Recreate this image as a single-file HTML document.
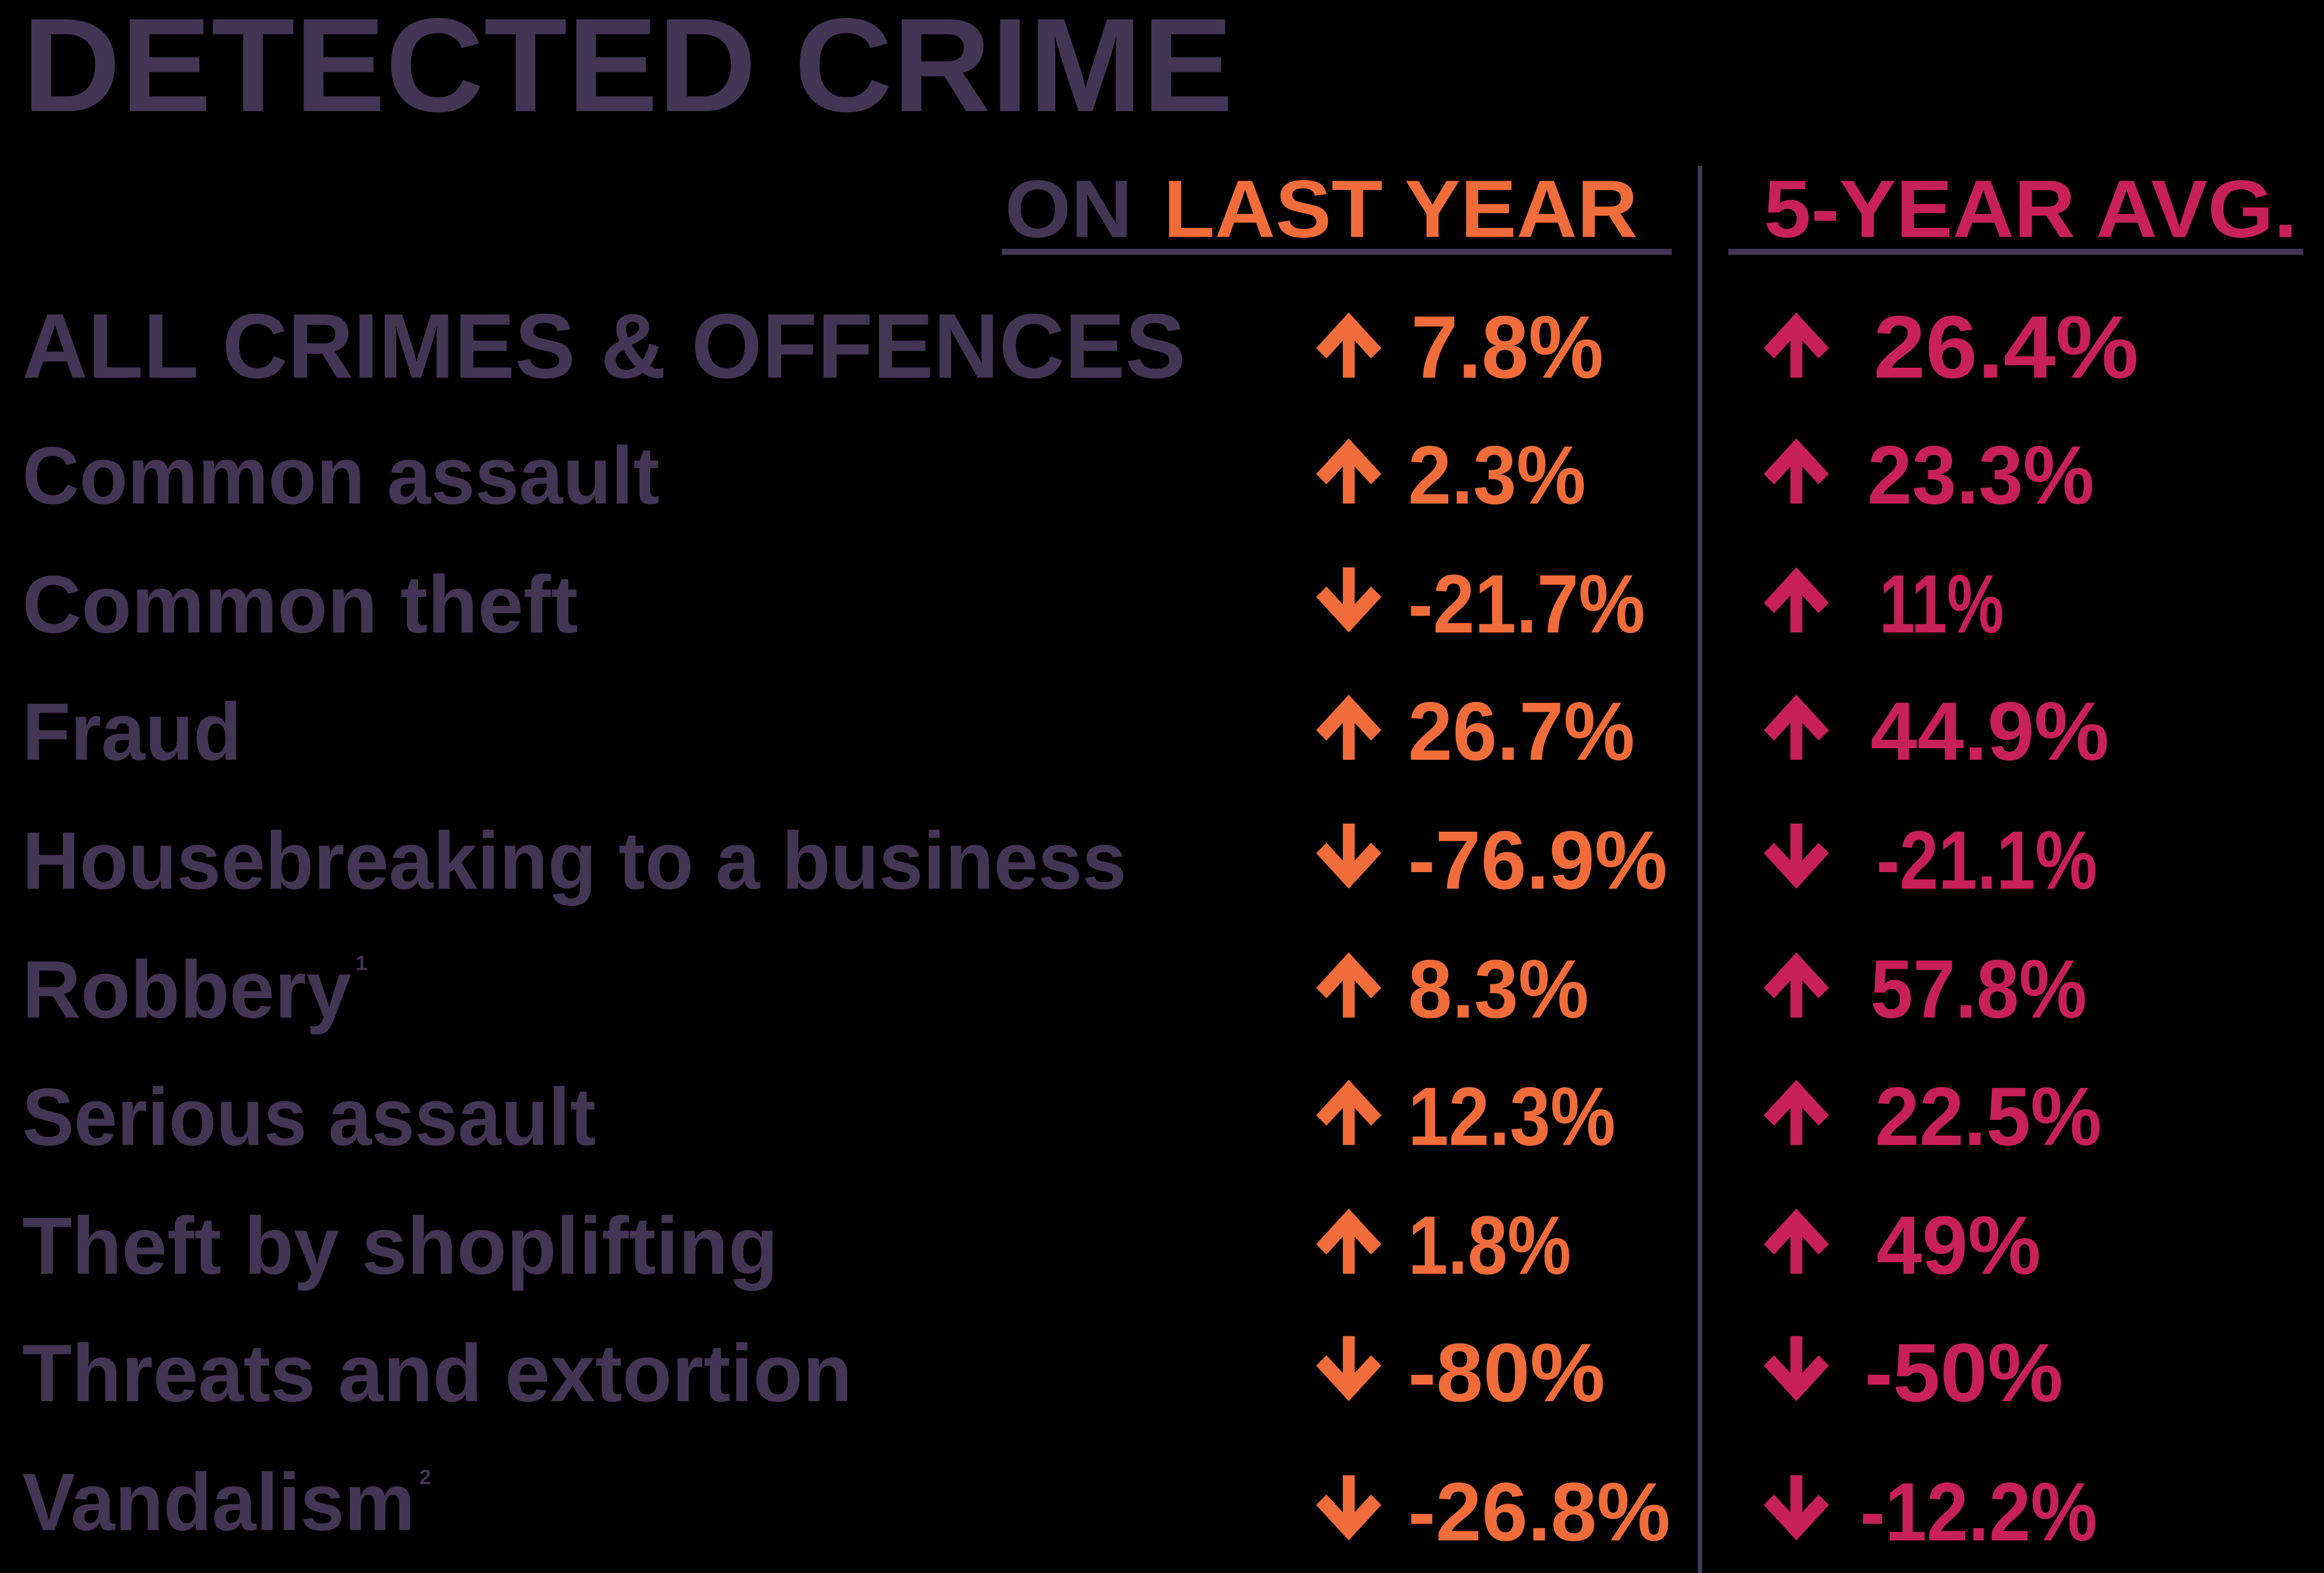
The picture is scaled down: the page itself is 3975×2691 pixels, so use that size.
<!DOCTYPE html>
<html><head><meta charset="utf-8"><style>
html,body{margin:0;padding:0;background:#000;}
svg{display:block;}
text{font-family:"Liberation Sans",sans-serif;font-weight:bold;}
</style></head><body>
<svg width="3975" height="2691" viewBox="0 0 1568 1062" preserveAspectRatio="none" xmlns="http://www.w3.org/2000/svg">
<defs>
<polygon id="up" points="22,0 44,24 37,31 26,19 26,44 18,44 18,19 7,31 0,24"/>
<polygon id="dn" points="22,44 44,20 37,13 26,25 26,0 18,0 18,25 7,13 0,20"/>
</defs>
<rect width="1568" height="1062" fill="#000"/>
<text x="15" y="75" font-size="90" fill="#433554" textLength="817" lengthAdjust="spacingAndGlyphs" style="font-weight:600">DETECTED CRIME</text>
<text x="678" y="160" font-size="55" fill="#433554" textLength="86" lengthAdjust="spacingAndGlyphs">ON</text>
<text x="785" y="160" font-size="55" fill="#f06c3a" textLength="320" lengthAdjust="spacingAndGlyphs">LAST YEAR</text>
<text x="1190" y="160" font-size="55" fill="#c8205a" textLength="360" lengthAdjust="spacingAndGlyphs">5-YEAR AVG.</text>
<rect x="676" y="168" width="452" height="4" fill="#433554"/>
<rect x="1166" y="168" width="388" height="4" fill="#433554"/>
<rect x="1145.5" y="112" width="3" height="950" fill="#453b5a"/>

<g fill="#433554">
<text x="15" y="255" font-size="62" textLength="785" lengthAdjust="spacingAndGlyphs">ALL CRIMES &amp; OFFENCES</text>
<text x="15" y="340" font-size="55" textLength="430" lengthAdjust="spacingAndGlyphs">Common assault</text>
<text x="15" y="427" font-size="55" textLength="375" lengthAdjust="spacingAndGlyphs">Common theft</text>
<text x="15" y="513" font-size="55" textLength="148" lengthAdjust="spacingAndGlyphs">Fraud</text>
<text x="15" y="600" font-size="55" textLength="745" lengthAdjust="spacingAndGlyphs">Housebreaking to a business</text>
<text x="15" y="687" font-size="55" textLength="222" lengthAdjust="spacingAndGlyphs">Robbery</text>
<text x="240" y="655" font-size="14">1</text>
<text x="15" y="773" font-size="55" textLength="387" lengthAdjust="spacingAndGlyphs">Serious assault</text>
<text x="15" y="860" font-size="55" textLength="510" lengthAdjust="spacingAndGlyphs">Theft by shoplifting</text>
<text x="15" y="946" font-size="55" textLength="560" lengthAdjust="spacingAndGlyphs">Threats and extortion</text>
<text x="15" y="1033" font-size="55" textLength="265" lengthAdjust="spacingAndGlyphs">Vandalism</text>
<text x="283" y="1002" font-size="14">2</text>
</g>

<g fill="#f06c3a">
<use href="#up" x="888" y="211"/><text x="952" y="255" font-size="60" textLength="130" lengthAdjust="spacingAndGlyphs">7.8%</text>
<use href="#up" x="888" y="296"/><text x="950" y="340" font-size="56" textLength="120" lengthAdjust="spacingAndGlyphs">2.3%</text>
<use href="#dn" x="888" y="383"/><text x="950" y="427" font-size="56" textLength="160" lengthAdjust="spacingAndGlyphs">-21.7%</text>
<use href="#up" x="888" y="469"/><text x="950" y="513" font-size="56" textLength="153" lengthAdjust="spacingAndGlyphs">26.7%</text>
<use href="#dn" x="888" y="556"/><text x="950" y="600" font-size="56" textLength="175" lengthAdjust="spacingAndGlyphs">-76.9%</text>
<use href="#up" x="888" y="643"/><text x="950" y="687" font-size="56" textLength="122" lengthAdjust="spacingAndGlyphs">8.3%</text>
<use href="#up" x="888" y="729"/><text x="950" y="773" font-size="56" textLength="140" lengthAdjust="spacingAndGlyphs">12.3%</text>
<use href="#up" x="888" y="816"/><text x="950" y="860" font-size="56" textLength="110" lengthAdjust="spacingAndGlyphs">1.8%</text>
<use href="#dn" x="888" y="902"/><text x="950" y="946" font-size="56" textLength="133" lengthAdjust="spacingAndGlyphs">-80%</text>
<use href="#dn" x="888" y="996"/><text x="950" y="1040" font-size="56" textLength="177" lengthAdjust="spacingAndGlyphs">-26.8%</text>
</g>

<g fill="#c8205a">
<use href="#up" x="1190" y="211"/><text x="1264" y="255" font-size="60" textLength="179" lengthAdjust="spacingAndGlyphs">26.4%</text>
<use href="#up" x="1190" y="296"/><text x="1260" y="340" font-size="56" textLength="153" lengthAdjust="spacingAndGlyphs">23.3%</text>
<use href="#up" x="1190" y="383"/><text x="1268" y="427" font-size="56" textLength="84" lengthAdjust="spacingAndGlyphs">11%</text>
<use href="#up" x="1190" y="469"/><text x="1262" y="513" font-size="56" textLength="161" lengthAdjust="spacingAndGlyphs">44.9%</text>
<use href="#dn" x="1190" y="556"/><text x="1266" y="600" font-size="56" textLength="149" lengthAdjust="spacingAndGlyphs">-21.1%</text>
<use href="#up" x="1190" y="643"/><text x="1262" y="687" font-size="56" textLength="146" lengthAdjust="spacingAndGlyphs">57.8%</text>
<use href="#up" x="1190" y="729"/><text x="1265" y="773" font-size="56" textLength="153" lengthAdjust="spacingAndGlyphs">22.5%</text>
<use href="#up" x="1190" y="816"/><text x="1266" y="860" font-size="56" textLength="111" lengthAdjust="spacingAndGlyphs">49%</text>
<use href="#dn" x="1190" y="902"/><text x="1258" y="946" font-size="56" textLength="134" lengthAdjust="spacingAndGlyphs">-50%</text>
<use href="#dn" x="1190" y="996"/><text x="1255" y="1040" font-size="56" textLength="160" lengthAdjust="spacingAndGlyphs">-12.2%</text>
</g>
</svg>
</body></html>
